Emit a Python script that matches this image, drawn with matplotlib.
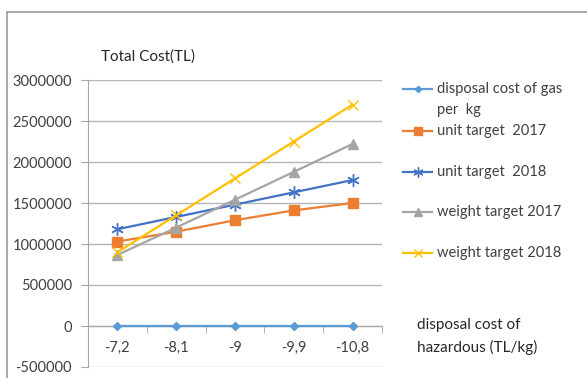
import matplotlib
matplotlib.use('Agg')
import matplotlib.pyplot as plt
from matplotlib.lines import Line2D
from matplotlib.patches import Rectangle

plt.rcParams['font.family'] = ['Lato', 'DejaVu Sans']

# dados
categories = ['-7,2', '-8,1', '-9', '-9,9', '-10,8']
disposal_gas = [0, 0, 0, 0, 0]
unit_2017 = [1030000, 1150000, 1290000, 1410000, 1500000]
unit_2018 = [1180000, 1330000, 1480000, 1630000, 1780000]
weight_2017 = [866000, 1200000, 1540000, 1880000, 2220000]
weight_2018 = [900000, 1350000, 1800000, 2250000, 2700000]
y_ticks = [-500000, 0, 500000, 1000000, 1500000, 2000000, 2500000, 3000000]

series = [
    ("disposal cost of gas", disposal_gas, '#5B9BD5', 'D', 4),
    ("unit target  2017", unit_2017, '#ED7D31', 's', 6.5),
    ("unit target  2018", unit_2018, '#4472C4', (6, 2, 0), 9),
    ("weight target 2017", weight_2017, '#A5A5A5', '^', 6.5),
    ("weight target 2018", weight_2018, '#FFC000', 'x', 7),
]

W, H = 587, 378
fig = plt.figure(figsize=(W / 100, H / 100), dpi=100)

def fx(px):
    return px / W

def fy(py):
    return 1 - py / H

# moldura do grafico (cortada a direita e embaixo)
fig.add_artist(Rectangle((fx(7), -0.1), 1.2, fy(12) + 0.1, transform=fig.transFigure,
                         fill=False, edgecolor='#9a9a9a', linewidth=1.2))

ax = fig.add_axes([fx(88), fy(367), fx(382) - fx(88), fy(80) - fy(367)])
x = list(range(len(categories)))

for name, vals, color, marker, ms in series:
    ax.plot(x, vals, color=color, linewidth=1.6, marker=marker, markersize=ms,
            markeredgecolor=color, markeredgewidth=1.0, zorder=3)

ax.set_xlim(-0.5, len(categories) - 0.5)
ax.set_ylim(-500000, 3000000)
ax.set_yticks(y_ticks)
ax.set_yticklabels([str(v) for v in y_ticks])
ax.grid(axis='y', color='#b5b5b5', linewidth=1.0, zorder=0)

for s in ['top', 'right']:
    ax.spines[s].set_visible(False)
ax.spines['left'].set_color('#a6a6a6')
ax.spines['bottom'].set_color('#a6a6a6')
ax.spines['bottom'].set_position(('data', 0))

ax.tick_params(axis='y', length=5, color='#a6a6a6', labelsize=10.5, labelcolor='#404040', pad=6.5)
ax.set_xticks(x)
ax.set_xticklabels(categories)
ax.set_xticks([i + 0.5 for i in x], minor=True)
ax.tick_params(axis='x', which='major', length=0, labelsize=10.5, labelcolor='#404040', pad=11)
ax.tick_params(axis='x', which='minor', length=5, color='#a6a6a6')

fig.text(fx(101), fy(57), "Total Cost(TL)", fontsize=11, color='#262626', va='center', ha='left')
fig.text(fx(417), fy(325), "disposal cost of", fontsize=11, color='#262626', va='center', ha='left')
fig.text(fx(417), fy(347), "hazardous (TL/kg)", fontsize=11, color='#262626', va='center', ha='left')

# legenda desenhada manualmente
leg_y = [89, 131, 172, 212, 253]
for (name, vals, color, marker, ms), py in zip(series, leg_y):
    fig.add_artist(Line2D([fx(403), fx(432)], [fy(py), fy(py)], transform=fig.transFigure,
                          color=color, linewidth=1.6))
    fig.add_artist(Line2D([fx(417.5)], [fy(py)], transform=fig.transFigure, color=color,
                          marker=marker, markersize=ms * 0.8, markeredgecolor=color,
                          markeredgewidth=1.0, linestyle='none'))
    fig.text(fx(437), fy(py), name, fontsize=10.5, color='#404040', va='center', ha='left')
fig.text(fx(437), fy(110), "per  kg", fontsize=10.5, color='#404040', va='center', ha='left')

fig.savefig('out.png', dpi=100)
plt.close(fig)
